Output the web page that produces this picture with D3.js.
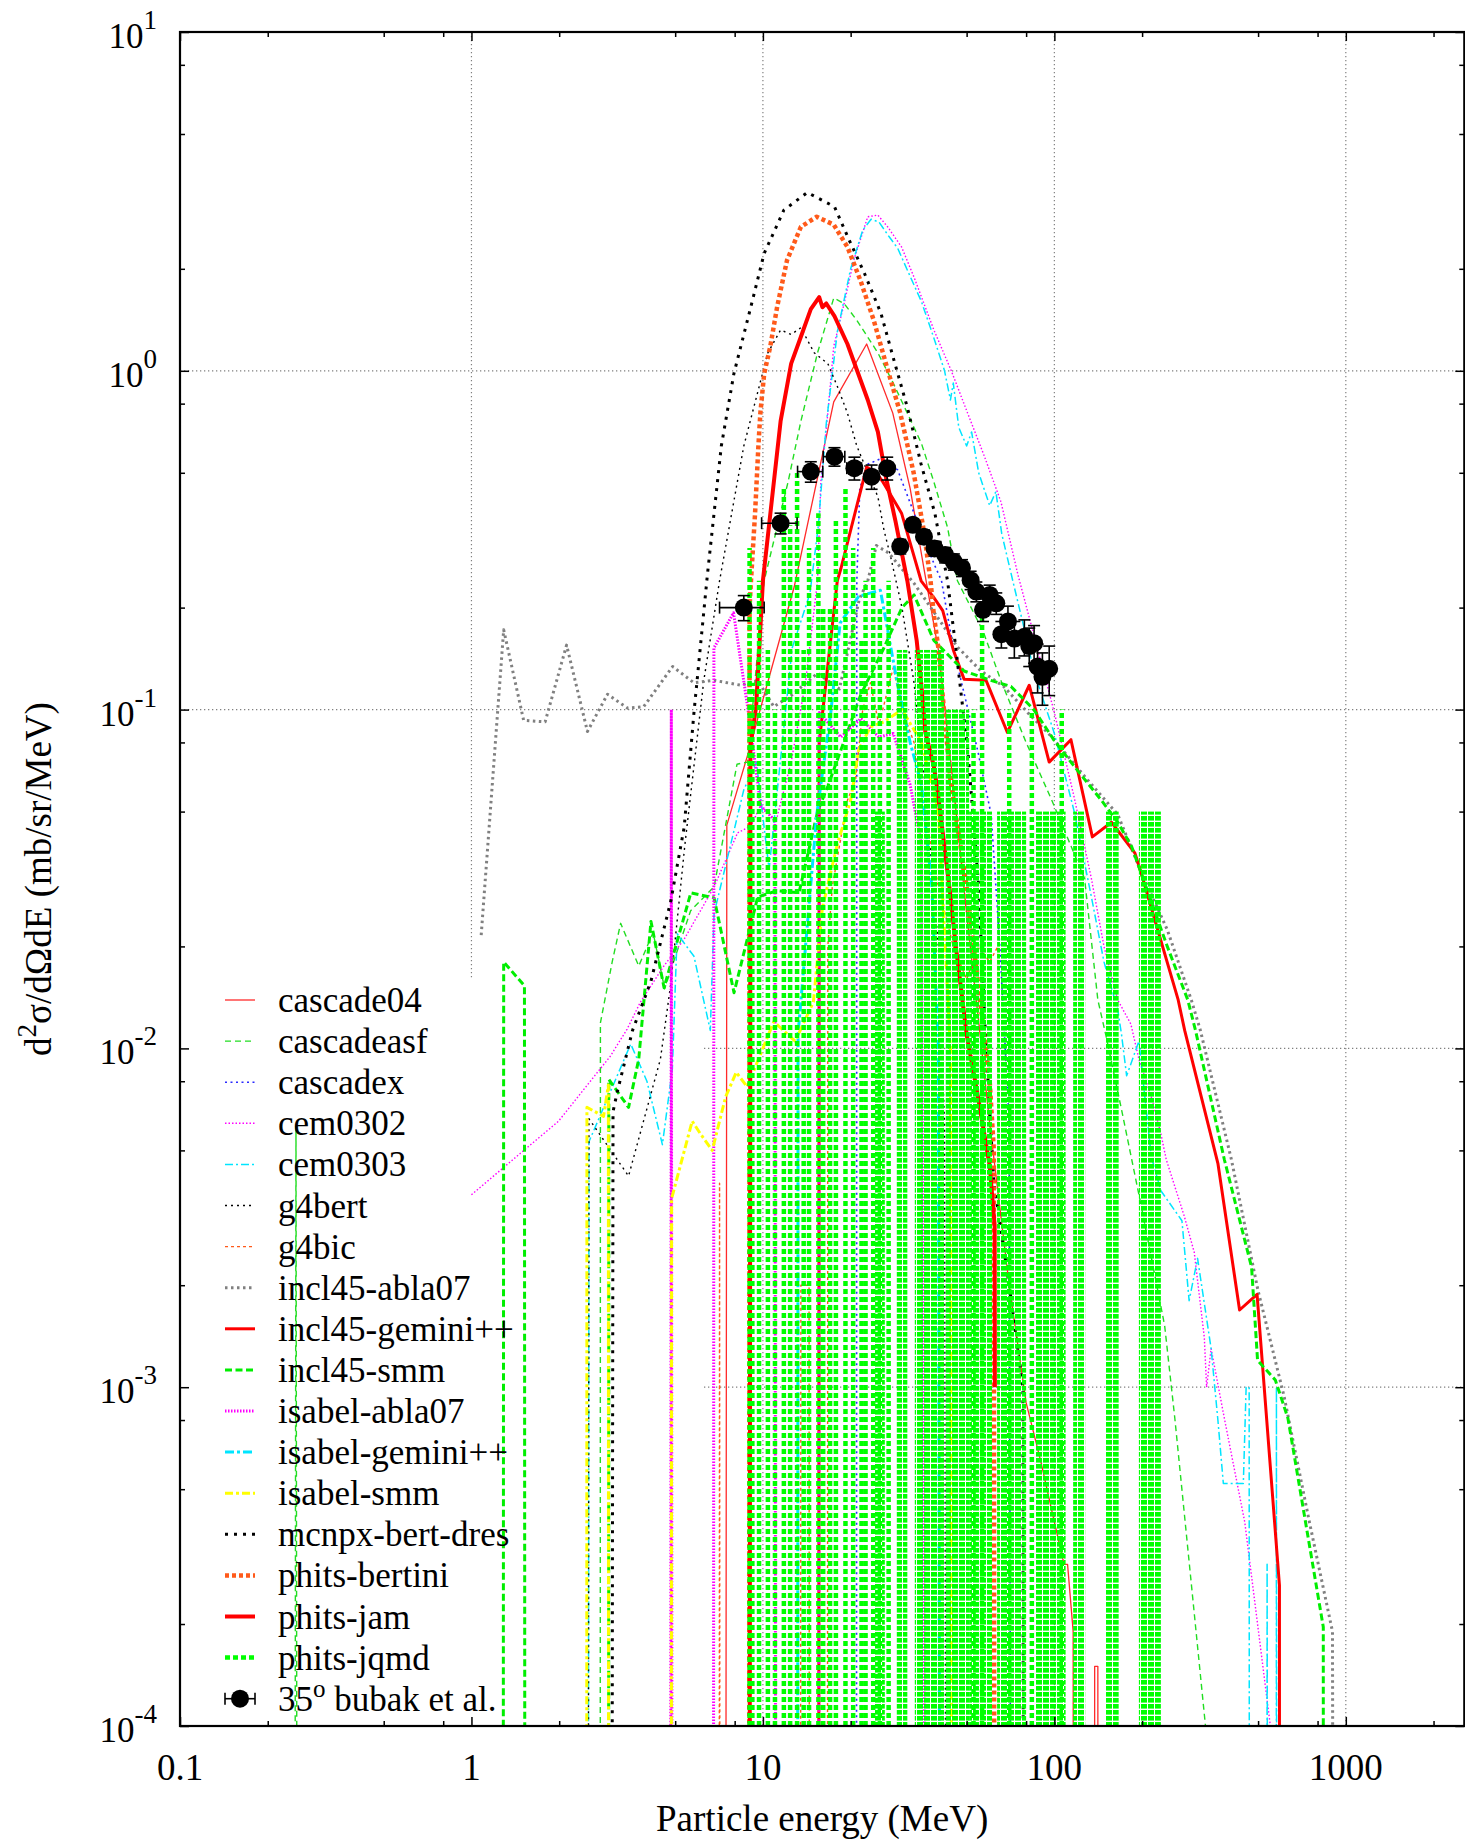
<!DOCTYPE html>
<html>
<head>
<meta charset="utf-8">
<script src="https://cdnjs.cloudflare.com/ajax/libs/d3/7.8.5/d3.min.js"></script>
<style>
body{margin:0;background:#fff;}
svg text{font-family:"Liberation Serif","Times New Roman",serif;fill:#000;}
</style>
</head>
<body>
<svg id="chart" width="1465" height="1842"></svg>
<script>
// axis ticks
var xMajor = [0.1, 1, 10, 100, 1000],
	xLabels = ["0.1", "1", "10", "100", "1000"],
	xMinor = [0.2, 0.5, 0.8, 2, 5, 8, 20, 50, 80, 200, 500, 800, 2000],
	yMajor = [10, 1, 0.1, 0.01, 0.001, 0.0001],
	yExp = ["1", "0", "-1", "-2", "-3", "-4"],
	yMinor = [2e-4, 5e-4, 8e-4, 2e-3, 5e-3, 8e-3, 0.02, 0.05, 0.08, 0.2, 0.5, 0.8, 2, 5, 8],
	xGrid = [1, 10, 100, 1000],
	yGrid = [1, 0.1, 0.01, 0.001];

// [energy MeV, d2sigma]  (0 = empty bin, falls off the log axis)
var cascade04 = [[7.4,0],[7.52,0.0456],[8.97,0.076],[9.85,0.102],[12.8,0.23],[17.5,0.81],[22.7,1.2],[27.9,0.75],[32,0.45],[36,0.25],[40,0.15],[45,0.06],[50,0.025],[55,0.012],[60,0.006],[70,0.002],[80,0.0009],[90,0.0006],[100,0.0004],[108,0.0003],[111,0.0003],[116,0.00019],[117,0],[137,0],[137.5,0.00015],[141,0.00015],[141.5,0]];
var cascadeasf = [[0.245,0],[0.25,0.0059],[0.255,0],[2.76,0],[2.77,0.0119],[3.04,0.018],[3.25,0.0234],[3.75,0.0175],[4.2,0.022],[4.6,0.015],[5.65,0.0255],[6.8,0.03],[8.15,0.069],[8.86,0.07],[10.1,0.24],[12.2,0.47],[13.5,0.71],[15.4,1.13],[17.5,1.64],[19,1.58],[21,1.41],[24.8,1.13],[28,0.92],[33,0.68],[35,0.61],[38.6,0.47],[43,0.345],[46.5,0.24],[57,0.17],[66,0.12],[80,0.08],[98,0.054],[127,0.0317],[141,0.0139],[150,0.011],[170,0.0066],[199,0.0034],[239,0.00152],[259,0.00081],[330,0.0001],[335,0]];
var cascadex = [[20.9,0],[21,0.24],[21.5,0.45],[22.9,0.53],[25.3,0.55],[29,0.51],[33,0.38],[38.6,0.27],[41,0.24],[45,0.152],[50.4,0.101],[54.7,0.075],[60.7,0.049],[65,0.02],[70,0.006],[72,0]];
var cem0302 = [[1.0,0.0037],[1.99,0.0061],[3.0,0.0095],[3.42,0.0114],[3.8,0.0137],[4.57,0.0175],[5.35,0.0209],[6.79,0.0299],[8.19,0.0433],[9.1,0.0453],[9.8,0.052],[11.1,0.047],[12.5,0.07],[14,0.12],[15.4,0.24],[15.8,0.47],[16.7,0.75],[17.5,1.18],[19,1.58],[20.5,2.12],[22.9,2.85],[24.8,2.88],[26.8,2.66],[29.9,2.32],[33,1.89],[38.6,1.32],[44.3,1.0],[50.4,0.75],[57.5,0.56],[65.6,0.41],[75,0.25],[100,0.098],[117,0.055],[134,0.0317],[148,0.02],[165,0.0139],[183,0.0118],[195,0.0093],[215,0.0072],[232,0.0056],[242,0.0047],[279,0.0032],[302,0.0025],[327,0.0014],[333,0.001],[345,0.0013],[383,0.00081],[450,0.0004],[551,0.0001],[560,0.00008]];
var cem0303 = [[2.5,0],[2.53,0.0053],[3.52,0.0103],[4.0,0.008],[4.52,0.0052],[4.89,0.0087],[5.08,0.0218],[5.8,0.0187],[6.6,0.0113],[6.8,0.025],[8.6,0.058],[9.5,0.07],[10.5,0.0338],[12.6,0.152],[14.5,0.22],[15.5,0.35],[16.5,0.7],[18,1.3],[20,2.0],[22,2.6],[23.5,2.8],[25,2.75],[27,2.5],[29,2.3],[32,1.9],[35,1.6],[38.6,1.25],[42,1.0],[44,0.82],[45,0.92],[47,0.68],[50,0.6],[52,0.66],[55,0.5],[60,0.4],[63,0.44],[66,0.33],[72,0.24],[78,0.18],[85,0.13],[100,0.085],[117,0.05],[134,0.028],[148,0.018],[165,0.013],[170,0.011],[177,0.0083],[195,0.0105],[215,0.0048],[232,0.0038],[274,0.0031],[290,0.0018],[310,0.0024],[345,0.0013],[364,0.0008],[380,0.00052],[445,0.00052],[455,0.001],[466,0.001],[468,0],[535,0],[537,0.0003],[545,0],[576,0],[578,0.001],[582,0]];
var g4bert = [[2.5,0],[2.53,0.0062],[3.46,0.0042],[4.45,0.0093],[4.82,0.0153],[5.4,0.04],[6.27,0.122],[7.1,0.24],[8.6,0.6],[10.4,1.13],[11.5,1.32],[12.5,1.28],[13.5,1.34],[15,1.13],[16.7,1.05],[18,0.9],[19.5,0.75],[21,0.6],[22.9,0.5],[24.8,0.425],[26,0.34],[27.5,0.28],[30,0.2],[33,0.12],[36,0.06],[40,0.02],[42,0.006],[43,0]];
var g4bic = [[7.05,0],[7.1,0.004],[7.15,0],[13.4,0],[13.5,0.002],[14.4,0.002],[14.5,0],[16.6,0],[16.7,0.02],[17.3,0.03],[19.5,0.054],[20.8,0.062],[22,0.1],[23.4,0.12],[25,0.09],[28,0.133],[30,0.1],[33,0.08],[36,0.05],[40,0.03],[45,0.02],[50,0.016],[55,0.02],[60,0.018],[64,0.02],[64.5,0]];
var incl45abla07 = [[1.08,0.0216],[1.29,0.172],[1.51,0.093],[1.79,0.092],[2.12,0.155],[2.5,0.0862],[2.93,0.111],[3.43,0.101],[3.9,0.102],[4.9,0.134],[5.8,0.12],[6.8,0.122],[8.4,0.118],[9.6,0.122],[10.9,0.102],[12.5,0.11],[15.4,0.128],[18.3,0.115],[21.4,0.211],[22.9,0.24],[24.5,0.305],[27,0.29],[30,0.26],[33,0.236],[41,0.18],[46.5,0.153],[56,0.13],[67,0.117],[81,0.098],[98,0.083],[130,0.062],[165,0.049],[199,0.033],[244,0.0224],[295,0.0139],[317,0.0113],[405,0.0047],[499,0.00194],[614,0.00094],[750,0.0004],[900,0.00019],[920,0]];
var incl45gemini = [[15.5,0],[15.6,0.0797],[18,0.24],[18.5,0.26],[22.7,0.52],[24.5,0.5],[25.8,0.47],[29.9,0.38],[34.9,0.24],[38.6,0.214],[41.4,0.196],[45,0.15],[49,0.123],[58.3,0.122],[69,0.0856],[82,0.118],[96,0.07],[114,0.0815],[135,0.0421],[157,0.0465],[189,0.0377],[199,0.0327],[266,0.0139],[280,0.0113],[364,0.00458],[432,0.00169],[496,0.00188],[592,0.00026],[593,0]];
var incl45smm = [[1.28,0],[1.29,0.018],[1.52,0.0153],[1.53,0],[2.95,0],[2.96,0.0081],[3.46,0.0067],[3.75,0.0093],[4.13,0.0237],[4.58,0.0151],[5.66,0.0288],[6.8,0.0278],[7.96,0.0146],[9.6,0.028],[11.2,0.0292],[13.3,0.0288],[15.4,0.05],[16.7,0.0594],[21.7,0.111],[26,0.152],[30,0.2],[33,0.218],[38.6,0.16],[49,0.13],[60.5,0.122],[71,0.117],[85,0.1],[100,0.081],[117,0.068],[145,0.054],[165,0.0465],[184,0.0395],[199,0.0327],[244,0.02],[287,0.0139],[305,0.0113],[383,0.0047],[475,0.00226],[498,0.0012],[573,0.00105],[633,0.00081],[837,0.000196],[838,0]];
var isabelAbla07 = [[4.8,0],[4.85,0.1],[4.9,0],[6.75,0],[6.79,0.152],[7.93,0.193],[8.86,0.102],[9.83,0.052],[11.0,0.047],[11.1,0],[15.5,0],[15.6,0.098],[18.5,0.083],[21.7,0.094],[25,0.083],[28,0.085],[32,0.06],[35,0.04],[37,0]];
var isabelGemini = [[13.1,0],[13.2,0.011],[15.3,0.049],[17.1,0.098],[18.4,0.18],[21.3,0.216],[25.3,0.225],[28.9,0.12],[32,0.08],[35,0.06],[38,0.03],[40,0.01],[41,0]];
var isabelSmm = [[2.48,0],[2.49,0.0067],[2.84,0.0063],[2.95,0.0078],[2.96,0],[4.84,0],[4.86,0.0036],[5.72,0.0061],[6.1,0.0056],[6.7,0.005],[7.45,0.0072],[8.1,0.0085],[8.83,0.0077],[10.9,0.012],[12.9,0.0105],[14.9,0.0137],[16,0.026],[18,0.04],[20,0.054],[21.3,0.076],[23.4,0.089],[26,0.092],[30,0.1],[35,0.08],[40,0.05],[44,0.01],[45,0]];
var mcnpxBertDres = [[3.0,0],[3.06,0.0065],[3.16,0.0074],[3.57,0.0113],[4.13,0.0158],[4.83,0.0272],[5.37,0.045],[5.8,0.098],[6.45,0.25],[7.2,0.6],[7.95,0.98],[9.1,1.55],[10.1,2.22],[11.8,2.98],[14.2,3.36],[17.6,3.05],[20,2.38],[22.3,1.94],[25.4,1.48],[28.2,1.07],[31.3,0.78],[34.9,0.53],[38.9,0.38],[43,0.24],[46,0.15],[48,0.109],[50.4,0.077],[52,0.055],[55,0.03],[58,0.011],[62,0.004],[70,0.002],[78,0.001],[79,0]];
var phitsBertini = [[8.95,0],[9.0,0.2],[9.1,0.24],[9.4,0.38],[9.65,0.6],[9.8,0.75],[10.1,0.98],[10.6,1.18],[11.2,1.55],[12.1,2.12],[13.5,2.66],[15.3,2.85],[17.5,2.7],[19.5,2.32],[21.6,1.85],[24,1.41],[26.6,1.03],[29.6,0.75],[32.9,0.5],[35.6,0.34],[37.6,0.24],[38.6,0.19],[40,0.152],[41,0.12],[44,0.062],[50,0.03],[55,0.015],[60,0.008],[62,0.005],[62.5,0]];
var phitsJam = [[8.95,0],[9.06,0.078],[9.48,0.102],[10,0.24],[11.5,0.71],[12.5,1.05],[13.5,1.26],[14.6,1.52],[15.6,1.65],[16,1.54],[16.5,1.58],[17.6,1.45],[19.5,1.2],[22.9,0.82],[24.8,0.66],[26.5,0.48],[28.5,0.36],[31.3,0.24],[33.7,0.16],[34.9,0.12],[36.1,0.0856],[38.6,0.068],[39.8,0.057],[41.4,0.0434],[42.4,0.0366],[44,0.0282],[45.9,0.02],[47,0.017],[50,0.011],[55,0.007],[60,0.0045],[62.4,0.003],[62.5,0.001]];
// phits-jqmd: isolated bins [E, value] and runs of alternating bins [Elo, Ehi, value]
var jqmdSpikes = [[9.0,0.3],[9.2,0.12],[9.7,0.24],[10.4,0.15],[11.0,0.1],[11.8,0.45],[12.4,0.35],[13.1,0.5],[13.8,0.15],[14.4,0.3],[15.5,0.38],[16.1,0.2],[17.0,0.2],[17.8,0.36],[19.2,0.45],[20.4,0.3],[21.8,0.16],[22.5,0.24],[23.9,0.3],[25.2,0.2],[27,0.24],[52.8,0.1],[56.5,0.188],[70,0.1],[83.7,0.1],[106,0.1]];
var jqmdBands = [[24.2,26.2,0.05],[28.8,31.3,0.15],[33.2,41.9,0.15],[42.4,51,0.1],[51,61.1,0.05],[63.6,80,0.05],[85.9,109.3,0.05],[116,127.6,0.05],[149.2,166.2,0.05],[195,232,0.05]];

// 35 deg, bubak et al.
var bubakE = [8.6,11.5,14.6,17.6,20.6,23.6,26.7,29.6,32.7,35.7,38.8,42.2,45.2,48.2,51.6,54,56.9,60,63.2,65.8,69.3,72.9,78.9,82,85.2,87.6,91,96];
var bubakV = [0.20,0.355,0.504,0.558,0.516,0.487,0.516,0.303,0.351,0.324,0.299,0.286,0.273,0.262,0.241,0.223,0.197,0.218,0.206,0.167,0.182,0.162,0.164,0.154,0.157,0.134,0.125,0.132];
var bubakDE = [1.5,1.6,1.45,1.5,1.2,0,0,0,0,0,0,0,0,0,0,0,0,0,0,0,0,0,0,0,0,0,0,0];
var bubakDV = [0.017,0.025,0.035,0.035,0.04,0.04,0.04,0.015,0.015,0.015,0.015,0.015,0.015,0.015,0.015,0.015,0.015,0.015,0.015,0.015,0.02,0.02,0.02,0.02,0.02,0.022,0.022,0.022];

var series = [
	{name:"cascade04", data:cascade04, color:"#ff2a2a", width:1.3, dash:null},
	{name:"cascadeasf", data:cascadeasf, color:"#22dd22", width:1.4, dash:"6,4"},
	{name:"cascadex", data:cascadex, color:"#2a2aff", width:1.6, dash:"2,3.5"},
	{name:"cem0302", data:cem0302, color:"#ff00ff", width:1.4, dash:"1.5,2"},
	{name:"cem0303", data:cem0303, color:"#00e5ff", width:1.5, dash:"8,3,2,3"},
	{name:"g4bert", data:g4bert, color:"#000000", width:1.4, dash:"2,4"},
	{name:"g4bic", data:g4bic, color:"#ff5a1a", width:1.4, dash:"3,3"},
	{name:"incl45-abla07", data:incl45abla07, color:"#808080", width:3, dash:"2.5,3.5"},
	{name:"incl45-gemini++", data:incl45gemini, color:"#ff0000", width:3, dash:null},
	{name:"incl45-smm", data:incl45smm, color:"#00ee00", width:3, dash:"7,3.5"},
	{name:"isabel-abla07", data:isabelAbla07, color:"#ff00ff", width:3, dash:"1.5,1.5"},
	{name:"isabel-gemini++", data:isabelGemini, color:"#00e5ff", width:3, dash:"9,3,3,3"},
	{name:"isabel-smm", data:isabelSmm, color:"#ffff00", width:3, dash:"8,3,3,3"},
	{name:"mcnpx-bert-dres", data:mcnpxBertDres, color:"#000000", width:3, dash:"3,6"},
	{name:"phits-bertini", data:phitsBertini, color:"#ff5a1a", width:4.5, dash:"4,3"},
	{name:"phits-jam", data:phitsJam, color:"#ff0000", width:4, dash:null},
	{name:"phits-jqmd", data:null, color:"#00ff00", width:4.5, dash:"5,3"}
];

var mL = 180, mR = 1464.3, mT = 32, mB = 1726;
var keyRight = 703, keyTop = 978;

var svg = d3.select("#chart");
var x = d3.scaleLog().domain([0.1, 2550]).range([mL, mR]);
var y = d3.scaleLog().domain([1e-4, 10]).range([mB, mT]);
function yv(v){ return y(Math.max(v, 1e-8)); }

var defs = svg.append("defs");
defs.append("clipPath").attr("id","plotclip").append("rect")
	.attr("x",mL).attr("y",mT).attr("width",mR-mL).attr("height",mB-mT);
var pat = defs.append("pattern").attr("id","jqfill").attr("patternUnits","userSpaceOnUse")
	.attr("width",7).attr("height",6);
pat.append("rect").attr("x",0).attr("y",0).attr("width",6).attr("height",4.6).attr("fill","#00ff00");

// grid
var grid = svg.append("g").attr("stroke","#808080").attr("stroke-width",1.2).attr("stroke-dasharray","1.3,2.7");
grid.selectAll("line.gx").data(xGrid).enter().append("line").attr("class","gx")
	.attr("x1",function(d){return x(d);}).attr("x2",function(d){return x(d);})
	.attr("y1",mT).attr("y2",mB);
grid.selectAll("line.gy").data(yGrid).enter().append("line").attr("class","gy")
	.attr("y1",function(d){return y(d);}).attr("y2",function(d){return y(d);})
	.attr("x1",mL).attr("x2",mR);
// key box hides the grid behind it
svg.append("rect").attr("x",mL).attr("y",keyTop).attr("width",keyRight-mL).attr("height",mB-keyTop).attr("fill","#fff");

var plot = svg.append("g").attr("clip-path","url(#plotclip)");
var line = d3.line().x(function(d){return x(d[0]);}).y(function(d){return yv(d[1]);});

series.forEach(function(s){
	if (s.data) {
		plot.append("path").datum(s.data).attr("d",line)
			.attr("fill","none").attr("stroke",s.color).attr("stroke-width",s.width)
			.attr("stroke-dasharray",s.dash).attr("stroke-linejoin","round");
	} else {
		plot.selectAll("rect.band").data(jqmdBands).enter().append("rect").attr("class","band")
			.attr("x",function(d){return x(d[0]);})
			.attr("width",function(d){return x(d[1])-x(d[0]);})
			.attr("y",function(d){return y(d[2]);})
			.attr("height",function(d){return mB-y(d[2]);})
			.attr("fill","url(#jqfill)");
		plot.selectAll("line.spike").data(jqmdSpikes).enter().append("line").attr("class","spike")
			.attr("x1",function(d){return x(d[0]);}).attr("x2",function(d){return x(d[0]);})
			.attr("y1",mB).attr("y2",function(d){return y(d[1]);})
			.attr("stroke",s.color).attr("stroke-width",s.width).attr("stroke-dasharray",s.dash);
	}
});

// data points
var pts = plot.selectAll("g.pt").data(bubakE).enter().append("g").attr("class","pt")
	.attr("stroke","#000").attr("stroke-width",1.6);
pts.each(function(d,i){
	var g = d3.select(this), cx = x(d), cy = y(bubakV[i]);
	if (bubakDE[i] > 0) {
		var x0 = x(d-bubakDE[i]), x1 = x(d+bubakDE[i]);
		g.append("line").attr("x1",x0).attr("x2",x1).attr("y1",cy).attr("y2",cy);
		g.append("line").attr("x1",x0).attr("x2",x0).attr("y1",cy-6).attr("y2",cy+6);
		g.append("line").attr("x1",x1).attr("x2",x1).attr("y1",cy-6).attr("y2",cy+6);
	}
	var y0 = y(bubakV[i]+bubakDV[i]), y1 = y(bubakV[i]-bubakDV[i]);
	g.append("line").attr("x1",cx).attr("x2",cx).attr("y1",y0).attr("y2",y1);
	g.append("line").attr("x1",cx-6).attr("x2",cx+6).attr("y1",y0).attr("y2",y0);
	g.append("line").attr("x1",cx-6).attr("x2",cx+6).attr("y1",y1).attr("y2",y1);
	g.append("circle").attr("cx",cx).attr("cy",cy).attr("r",9).attr("fill","#000").attr("stroke","none");
});

// axes ticks (inward, mirrored)
function noDomain(g){ g.select(".domain").remove(); g.selectAll(".tick line").attr("stroke","#000").attr("stroke-width",1.5); g.selectAll(".tick text").remove(); }
svg.append("g").attr("transform","translate(0,"+mB+")").call(d3.axisBottom(x).tickValues(xMajor).tickSize(-9)).call(noDomain);
svg.append("g").attr("transform","translate(0,"+mB+")").call(d3.axisBottom(x).tickValues(xMinor).tickSize(-5)).call(noDomain);
svg.append("g").attr("transform","translate(0,"+mT+")").call(d3.axisTop(x).tickValues(xMajor).tickSize(-9)).call(noDomain);
svg.append("g").attr("transform","translate(0,"+mT+")").call(d3.axisTop(x).tickValues(xMinor).tickSize(-5)).call(noDomain);
svg.append("g").attr("transform","translate("+mL+",0)").call(d3.axisLeft(y).tickValues(yMajor).tickSize(-9)).call(noDomain);
svg.append("g").attr("transform","translate("+mL+",0)").call(d3.axisLeft(y).tickValues(yMinor).tickSize(-5)).call(noDomain);
svg.append("g").attr("transform","translate("+mR+",0)").call(d3.axisRight(y).tickValues(yMajor).tickSize(-9)).call(noDomain);
svg.append("g").attr("transform","translate("+mR+",0)").call(d3.axisRight(y).tickValues(yMinor).tickSize(-5)).call(noDomain);

svg.append("rect").attr("x",mL).attr("y",mT).attr("width",mR-mL).attr("height",mB-mT)
	.attr("fill","none").attr("stroke","#000").attr("stroke-width",2.2);

// tick labels
svg.selectAll("text.xl").data(xMajor).enter().append("text").attr("class","xl")
	.attr("x",function(d){return x(d);}).attr("y",1780).attr("text-anchor","middle")
	.attr("font-size",37).text(function(d,i){return xLabels[i];});
var yl = svg.selectAll("text.yl").data(yMajor).enter().append("text").attr("class","yl")
	.attr("x",157).attr("y",function(d){return y(d)+16;}).attr("text-anchor","end").attr("font-size",35);
yl.append("tspan").text("10");
yl.append("tspan").attr("dy",-19).attr("font-size",27).text(function(d,i){return yExp[i];});

// axis titles
svg.append("text").attr("x",(mL+mR)/2).attr("y",1831).attr("text-anchor","middle")
	.attr("font-size",37).text("Particle energy (MeV)");
var yt = svg.append("text").attr("transform","translate(51,"+((mT+mB)/2)+") rotate(-90)")
	.attr("text-anchor","middle").attr("font-size",37);
yt.append("tspan").text("d");
yt.append("tspan").attr("dy",-15).attr("font-size",27).text("2");
yt.append("tspan").attr("dy",15).text("\u03c3/d\u03a9dE (mb/sr/MeV)");

// legend
var legend = svg.append("g");
series.forEach(function(s,i){
	var yy = 1000 + i*41.1;
	legend.append("line").attr("x1",225).attr("x2",255).attr("y1",yy).attr("y2",yy)
		.attr("stroke",s.color).attr("stroke-width",s.width).attr("stroke-dasharray",s.dash);
	legend.append("text").attr("x",278).attr("y",yy+12).attr("font-size",35).text(s.name);
});
var ly = 1000 + series.length*41.1;
var lg = legend.append("g").attr("stroke","#000").attr("stroke-width",1.6);
lg.append("line").attr("x1",225).attr("x2",255).attr("y1",ly).attr("y2",ly);
lg.append("line").attr("x1",225).attr("x2",225).attr("y1",ly-6).attr("y2",ly+6);
lg.append("line").attr("x1",255).attr("x2",255).attr("y1",ly-6).attr("y2",ly+6);
lg.append("circle").attr("cx",240).attr("cy",ly).attr("r",9).attr("fill","#000").attr("stroke","none");
var lt = legend.append("text").attr("x",278).attr("y",ly+12).attr("font-size",35);
lt.append("tspan").text("35");
lt.append("tspan").attr("dy",-14).attr("font-size",25).text("o");
lt.append("tspan").attr("dy",14).text(" bubak et al.");
</script>
</body>
</html>
